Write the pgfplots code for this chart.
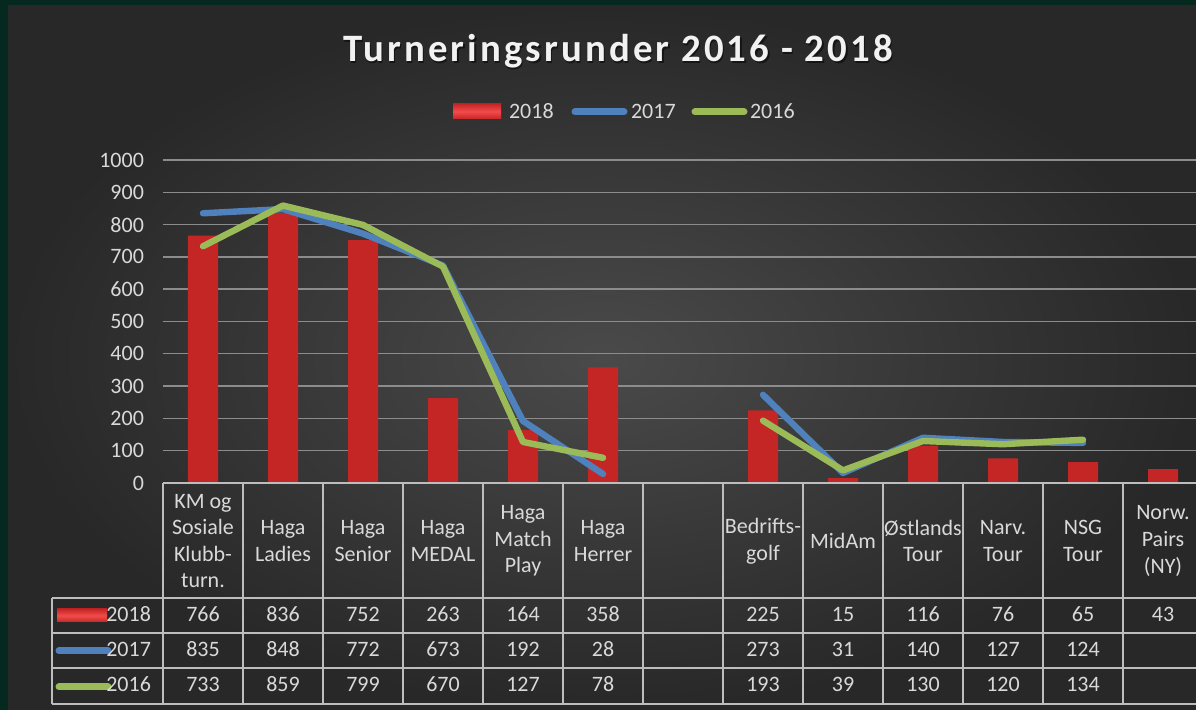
\documentclass[border=0pt]{standalone}
\usepackage{fontspec}
\setmainfont{Carlito}
\newfontfamily\titlefont[LetterSpace=8]{Carlito}
\usepackage{pgfplots}
\pgfplotsset{compat=1.18}
\usepackage{pgfplotstable}

\definecolor{frame}{HTML}{06291F}
\definecolor{bgin}{HTML}{4A4A4A}
\definecolor{bgout}{HTML}{282828}
\definecolor{txt}{HTML}{D9D9D9}
\definecolor{gridc}{HTML}{8C8C8C}
\definecolor{tabc}{HTML}{BDBDBD}
\definecolor{barmid}{HTML}{F24C4A}
\definecolor{baredge}{HTML}{C42626}
\definecolor{c17}{HTML}{4F81BD}
\definecolor{c16}{HTML}{9BBB59}

% x = category index (6 is the empty column)
\pgfplotstableread{
x  y18  y17  y16
0  766  835  733
1  836  848  859
2  752  772  799
3  263  673  670
4  164  192  127
5  358  28   78
6  nan  nan  nan
7  225  273  193
8  15   31   39
9  116  140  130
10 76   127  120
11 65   124  134
12 43   nan  nan
}\runder

\begin{document}
\begin{tikzpicture}
\path[use as bounding box] (0,0) rectangle (598pt,-355pt);
\clip (0,0) rectangle (598pt,-355pt);

% background, title, legend (pixel units, y down)
\begin{scope}[x=0.5pt,y=-0.5pt]
  \fill[frame] (0,0) rectangle (1196,710);
  \fill[inner color=bgin, outer color=bgout] (8,6) rectangle (1196,710);
  \node[anchor=base, text=black, opacity=0.5] at (619.5,63.5)
    {\titlefont\bfseries\fontsize{19.4}{23}\selectfont Turneringsrunder 2016 - 2018};
  \node[anchor=base, text=white!95!black] at (618,62)
    {\titlefont\bfseries\fontsize{19.4}{23}\selectfont Turneringsrunder 2016 - 2018};

  \fill[top color=baredge, bottom color=baredge, middle color=barmid] (453,104) rectangle (501,119);
  \node[anchor=west, text=txt, font=\fontsize{11}{13}\selectfont] at (502,111) {2018};
  \draw[c17, line width=3.5pt, line cap=round] (575,112) -- (624,112);
  \node[anchor=west, text=txt, font=\fontsize{11}{13}\selectfont] at (624,111) {2017};
  \draw[c16, line width=3.5pt, line cap=round] (695,112) -- (744,112);
  \node[anchor=west, text=txt, font=\fontsize{11}{13}\selectfont] at (743,111) {2016};
\end{scope}

\begin{axis}[
  at={(81.5pt,-241.5pt)}, anchor=south west,
  scale only axis, width=520pt, height=161.5pt,
  xmin=-0.5, xmax=12.5, ymin=0, ymax=1000,
  ytick={0,100,...,1000}, xtick=\empty,
  axis line style={draw=none}, major tick length=0pt,
  ymajorgrids, grid style={gridc, line width=0.7pt},
  yticklabel style={text=txt, font=\fontsize{11}{13}\selectfont, xshift=-6pt},
  /pgf/number format/assume math mode=true,
  /pgf/number format/1000 sep={},
  clip=false,
]
\addplot[ybar, bar width=15pt, draw=none,
  left color=baredge, middle color=barmid, right color=baredge]
  table[x=x, y=y18] {\runder};
\addplot[c17, line width=3.2pt, line join=round, line cap=round, unbounded coords=jump]
  table[x=x, y=y17] {\runder};
\addplot[c16, line width=3.2pt, line join=round, line cap=round, unbounded coords=jump]
  table[x=x, y=y16] {\runder};
\end{axis}

% data table below the plot
\begin{scope}[x=0.5pt,y=-0.5pt, every node/.style={text=txt, font=\fontsize{11}{13.3}\selectfont}]
  \draw[tabc, line width=0.6pt] (163,483) -- (1196,483);
  \foreach \yy in {598,633,668,704} \draw[tabc, line width=0.6pt] (52,\yy) -- (1196,\yy);
  \draw[tabc, line width=0.6pt] (52,598) -- (52,704);
  \foreach \k in {0,...,13} \draw[tabc, line width=0.6pt] (163+80*\k,483) -- (163+80*\k,704);

  \foreach \lab [count=\i from 0] in {{KM og\\Sosiale\\Klubb-\\turn.},{Haga\\Ladies},{Haga\\Senior},
      {Haga\\MEDAL},{Haga\\Match\\Play},{Haga\\Herrer},{},{Bedrifts-\\golf},{MidAm},
      {Østlands\\Tour},{Narv.\\Tour},{NSG\\Tour},{Norw.\\Pairs\\(NY)}}
    \node[align=center] at (203+80*\i,541) {\lab};

  \foreach \v [count=\i from 0] in {766,836,752,263,164,358,{},225,15,116,76,65,43}
    \node[anchor=base] at (203+80*\i,622) {\v};
  \foreach \v [count=\i from 0] in {835,848,772,673,192,28,{},273,31,140,127,124,{}}
    \node[anchor=base] at (203+80*\i,657) {\v};
  \foreach \v [count=\i from 0] in {733,859,799,670,127,78,{},193,39,130,120,134,{}}
    \node[anchor=base] at (203+80*\i,692) {\v};

  \fill[top color=baredge, bottom color=baredge, middle color=barmid] (57,609) rectangle (107,622);
  \node[anchor=base east] at (158,622) {2018};
  \draw[c17, line width=3.5pt, line cap=round] (59,651) -- (108,651);
  \node[anchor=base east] at (158,657) {2017};
  \draw[c16, line width=3.5pt, line cap=round] (59,687) -- (108,687);
  \node[anchor=base east] at (158,692) {2016};
\end{scope}
\end{tikzpicture}
\end{document}
